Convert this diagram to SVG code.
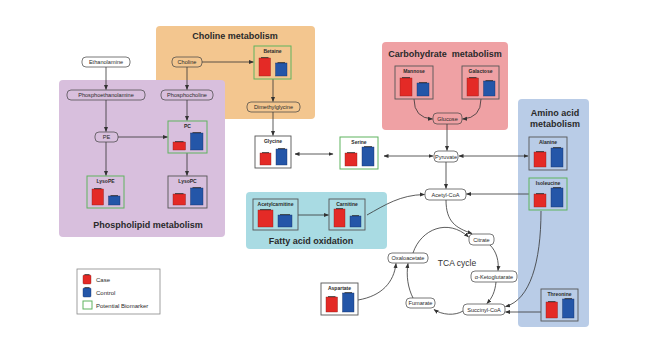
<svg xmlns="http://www.w3.org/2000/svg" width="650" height="346" viewBox="0 0 650 346">
<defs>
<marker id="ah" viewBox="0 0 10 10" refX="9" refY="5" markerWidth="5" markerHeight="5" markerUnits="userSpaceOnUse" orient="auto-start-reverse"><path d="M0,1 L10,5 L0,9 z" fill="#333"/></marker>
<style>
text{font-family:"Liberation Sans",Arial,sans-serif;fill:#2a2a2a;text-anchor:middle}
.t{font-size:9px;font-weight:bold}
.n{font-size:5.6px}
.cl{font-size:5px;font-weight:bold}
.nb{fill:none;stroke:#444;stroke-opacity:.85;stroke-width:.85}
.cg{fill:none;stroke:#5fb35f;stroke-width:1}
.cd{fill:none;stroke:#555;stroke-width:.9}
.r{fill:#e42a26;stroke:#8a1f19;stroke-width:.4}
.b{fill:#2456a8;stroke:#152f66;stroke-width:.4}
.eb{stroke:#222;stroke-width:.8;fill:none}
.c{fill:none;stroke:#333;stroke-width:.8;marker-end:url(#ah)}
.d{marker-start:url(#ah)}
</style>
</defs>
<rect width="650" height="346" fill="#ffffff"/>

<g id="regions">
<rect x="156" y="26" width="159" height="93" rx="4" fill="#f3c68f"/>
<rect x="59" y="80" width="166" height="157" rx="4" fill="#d8bfdd"/>
<rect x="382" y="42" width="126" height="88" rx="4" fill="#efa1a4"/>
<rect x="518" y="99" width="71" height="228" rx="4" fill="#b9cce7"/>
<rect x="246" y="192" width="141" height="57" rx="4" fill="#a9dbe3"/>
<text class="t" x="235" y="39">Choline metabolism</text>
<text class="t" x="148" y="228">Phospholipid metabolism</text>
<text class="t" x="445" y="57" xml:space="preserve">Carbohydrate  metabolism</text>
<text class="t" x="555" y="116">Amino acid</text>
<text class="t" x="555" y="127">metabolism</text>
<text class="t" x="311" y="244">Fatty acid oxidation</text>
<text x="457" y="266" style="font-size:8.5px;fill:#333333">TCA cycle</text>
</g>

<g id="connectors">
<path class="c" d="M106,67 V89.5"/>
<path class="c" d="M106,100 V131.5"/>
<path class="c" d="M106,142 V175.5"/>
<path class="c" d="M118,137 H167.5"/>
<path class="c" d="M187,67 V89.5"/>
<path class="c" d="M187,100 V120.5"/>
<path class="c" d="M187,153 V175.5"/>
<path class="c" d="M202,62 H253.5"/>
<path class="c" d="M273,79 V101.5"/>
<path class="c" d="M273,112 V135.5"/>
<path class="c d" d="M295,154 H333"/>
<path class="c d" d="M384,156 H433"/>
<path class="c d" d="M459,156 H528"/>
<path class="c" d="M529,194 H466.5"/>
<path class="c" d="M414,99 Q414,118 432.5,119"/>
<path class="c" d="M481,99 Q481,118 462.5,119"/>
<path class="c" d="M447,124 V150.5"/>
<path class="c" d="M446,162 V188.5"/>
<path class="c" d="M298,215 H328.5"/>
<path class="c" d="M367,215 C385,205 400,195 424.5,194.5"/>
<path class="c" d="M446,200 C446,222 456,228 472,233.5"/>
<path class="c" d="M413,253 C421,229 448,218 468.5,237"/>
<path class="c" d="M490,245 C497,252 499,262 498,270.5"/>
<path class="c" d="M496,282 C495,292 492,298 487,303.5"/>
<path class="c" d="M463,311 C455,316 442,315 434,309.5"/>
<path class="c" d="M413,298 C408,288 406,276 408,263.5"/>
<path class="c" d="M358,300 C382,296 394,282 396,263.5"/>
<path class="c" d="M541,211 C541,262 530,300 505.5,306.5"/>
<path class="c" d="M541,312 H505.5"/>
</g>

<g id="ethanolamine"><rect class="nb" x="82" y="57" width="48" height="10" rx="4"/><text class="n" x="106" y="64">Ethanolamine</text></g>
<g id="choline"><rect class="nb" x="172" y="57" width="30" height="10" rx="4"/><text class="n" x="187" y="64">Choline</text></g>
<g id="phosphoethanolamine"><rect class="nb" x="67" y="90" width="78" height="10" rx="4"/><text class="n" x="106" y="97">Phosphoethanolamine</text></g>
<g id="phosphocholine"><rect class="nb" x="161" y="90" width="52" height="10" rx="4"/><text class="n" x="187" y="97">Phosphocholine</text></g>
<g id="pe"><rect class="nb" x="95" y="132" width="23" height="10" rx="4"/><text class="n" x="106.5" y="139">PE</text></g>
<g id="dimethylglycine"><rect class="nb" x="247" y="102" width="53" height="10" rx="4"/><text class="n" x="273.5" y="109">Dimethylglycine</text></g>
<g id="glucose"><rect class="nb" x="433" y="113" width="29" height="11" rx="4"/><text class="n" x="447.5" y="120.5">Glucose</text></g>
<g id="pyruvate"><rect class="nb" x="434" y="151" width="24" height="11" rx="4"/><text class="n" x="446" y="158.5">Pyruvate</text></g>
<g id="acetyl-coa"><rect class="nb" x="425" y="189" width="41" height="11" rx="4"/><text class="n" x="445.5" y="196.5">Acetyl-CoA</text></g>
<g id="citrate"><rect class="nb" x="469" y="234" width="25" height="11" rx="4"/><text class="n" x="481.5" y="241.5">Citrate</text></g>
<g id="oxaloacetate"><rect class="nb" x="388" y="253" width="40" height="10" rx="4"/><text class="n" x="408" y="260">Oxaloacetate</text></g>
<g id="ketoglutarate"><rect class="nb" x="471" y="271" width="46" height="11" rx="4"/><text class="n" x="494" y="278.5">α-Ketoglutarate</text></g>
<g id="succinyl-coa"><rect class="nb" x="463" y="304" width="42" height="11" rx="4"/><text class="n" x="484" y="311.5">Succinyl-CoA</text></g>
<g id="fumarate"><rect class="nb" x="406" y="298" width="29" height="10" rx="4"/><text class="n" x="420.5" y="305">Fumarate</text></g>

<g id="betaine" transform="translate(254,46)"><rect class="cg" width="37" height="33"/><text class="cl" x="18.5" y="7">Betaine</text><rect class="r" x="5" y="12" width="11.5" height="18"/><rect class="b" x="21.5" y="17" width="11.5" height="13"/><path class="eb" d="M7,11.6h7.5M23.5,16.6h7.5"/></g>
<g id="pc" transform="translate(168,121)"><rect class="cg" width="39" height="32"/><text class="cl" x="19.5" y="7">PC</text><rect class="r" x="5" y="21" width="12.5" height="8"/><rect class="b" x="22.5" y="12" width="12.5" height="17"/><path class="eb" d="M7,20.6h8.5M24.5,11.6h8.5"/></g>
<g id="lysope" transform="translate(87,176)"><rect class="cg" width="37" height="32"/><text class="cl" x="18.5" y="7">LysoPE</text><rect class="r" x="5" y="13" width="11.5" height="16"/><rect class="b" x="21.5" y="20" width="11.5" height="9"/><path class="eb" d="M7,12.6h7.5M23.5,19.6h7.5"/></g>
<g id="lysopc" transform="translate(168,176)"><rect class="cd" width="39" height="32"/><text class="cl" x="19.5" y="7">LysoPC</text><rect class="r" x="5" y="18" width="12.5" height="11"/><rect class="b" x="22.5" y="12" width="12.5" height="17"/><path class="eb" d="M7,17.6h8.5M24.5,11.6h8.5"/></g>
<g id="glycine" transform="translate(255,136)"><rect class="cd" width="36" height="32"/><text class="cl" x="18" y="7">Glycine</text><rect class="r" x="5" y="17" width="11" height="12"/><rect class="b" x="21" y="13" width="11" height="16"/><path class="eb" d="M7,16.6h7M23,12.6h7"/></g>
<g id="serine" transform="translate(340,137)"><rect class="cg" width="38" height="32"/><text class="cl" x="19" y="7">Serine</text><rect class="r" x="5" y="16" width="12" height="13"/><rect class="b" x="22" y="10" width="12" height="19"/><path class="eb" d="M7,15.6h8M24,9.6h8"/></g>
<g id="acetylcarnitine" transform="translate(253,199)"><rect class="cd" width="45" height="31"/><text class="cl" x="22.5" y="7">Acetylcarnitine</text><rect class="r" x="5" y="11" width="15" height="17"/><rect class="b" x="25" y="16" width="14" height="12"/><path class="eb" d="M7,10.6h11M27,15.6h10"/></g>
<g id="carnitine" transform="translate(329,199)"><rect class="cd" width="36" height="31"/><text class="cl" x="18" y="7">Carnitine</text><rect class="r" x="5" y="10" width="11" height="18"/><rect class="b" x="21" y="17" width="11" height="11"/><path class="eb" d="M7,9.6h7M23,16.6h7"/></g>
<g id="mannose" transform="translate(395,66)"><rect class="cd" width="38" height="33"/><text class="cl" x="19" y="7">Mannose</text><rect class="r" x="5" y="12" width="12" height="18"/><rect class="b" x="22" y="17" width="12" height="13"/><path class="eb" d="M7,11.6h8M24,16.6h8"/></g>
<g id="galactose" transform="translate(462,66)"><rect class="cd" width="37" height="33"/><text class="cl" x="18.5" y="7">Galactose</text><rect class="r" x="5" y="12" width="11.5" height="18"/><rect class="b" x="21.5" y="15" width="11.5" height="15"/><path class="eb" d="M7,11.6h7.5M23.5,14.6h7.5"/></g>
<g id="alanine" transform="translate(529,137)"><rect class="cd" width="38" height="33"/><text class="cl" x="19" y="7">Alanine</text><rect class="r" x="5" y="15" width="12" height="15"/><rect class="b" x="22" y="11" width="12" height="19"/><path class="eb" d="M7,14.6h8M24,10.6h8"/></g>
<g id="isoleucine" transform="translate(529,178)"><rect class="cg" width="38" height="32"/><text class="cl" x="19" y="7">Isoleucine</text><rect class="r" x="5" y="16" width="12" height="13"/><rect class="b" x="22" y="10" width="12" height="19"/><path class="eb" d="M7,15.6h8M24,9.6h8"/></g>
<g id="threonine" transform="translate(541,289)"><rect class="cd" width="37" height="32"/><text class="cl" x="18.5" y="7">Threonine</text><rect class="r" x="5" y="13" width="11.5" height="16"/><rect class="b" x="21.5" y="10" width="11.5" height="19"/><path class="eb" d="M7,12.6h7.5M23.5,9.6h7.5"/></g>
<g id="aspartate" transform="translate(321,283)"><rect class="cd" width="37" height="32"/><text class="cl" x="18.5" y="7">Aspartate</text><rect class="r" x="5" y="14" width="11.5" height="15"/><rect class="b" x="21.5" y="10" width="11.5" height="19"/><path class="eb" d="M7,13.6h7.5M23.5,9.6h7.5"/></g>

<g id="legend">
<rect x="77" y="269" width="83" height="45" fill="#fff" stroke="#888" stroke-width=".8"/>
<rect class="r" x="83" y="275" width="8" height="9" rx="1"/><path class="eb" d="M84.5,274.6h5"/>
<rect class="b" x="83" y="288" width="8" height="9" rx="1"/><path class="eb" d="M84.5,287.6h5"/>
<rect x="83" y="301" width="9" height="8" fill="none" stroke="#5fb35f" stroke-width="1"/>
<text class="n" x="96" y="282" style="text-anchor:start;font-size:6px">Case</text>
<text class="n" x="96" y="295" style="text-anchor:start;font-size:6px">Control</text>
<text class="n" x="96" y="307.5" style="text-anchor:start;font-size:6px">Potential Biomarker</text>
</g>
</svg>
